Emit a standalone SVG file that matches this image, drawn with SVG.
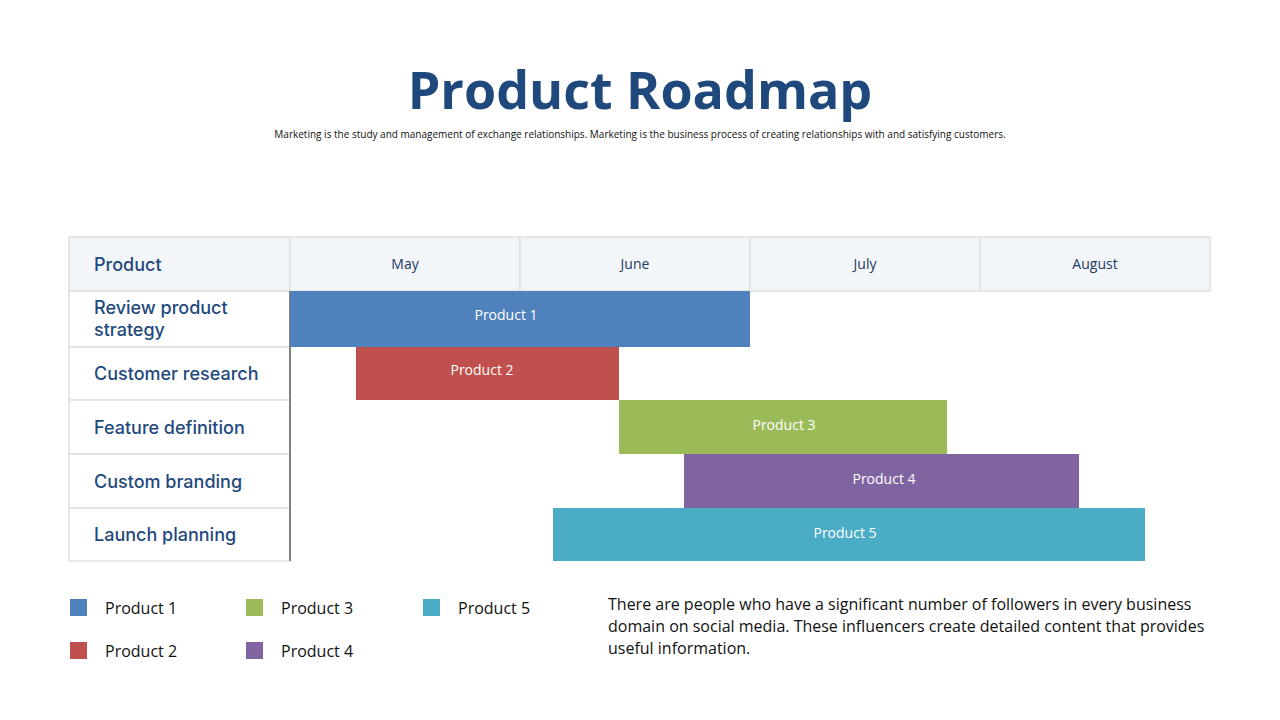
<svg xmlns="http://www.w3.org/2000/svg" width="1280" height="720" viewBox="0 0 1280 720">
<style>
.lbl{font-family:Inter,"Noto Sans",sans-serif;font-size:18px;fill:#1f497d;font-weight:500}
.mon{font-family:"Open Sans","Noto Sans",sans-serif;font-size:14px;fill:#1f3864;text-anchor:middle}
.bar{font-family:"Open Sans","Noto Sans",sans-serif;font-size:14px;fill:#fff;text-anchor:middle}
.leg{font-family:"Open Sans","Noto Sans",sans-serif;font-size:16px;fill:#111}
.cell{fill:#fff;stroke:#e0e0e0;stroke-width:1.5}
.hd{fill:#f3f6f8;stroke:#e0e0e0;stroke-width:1.5}
</style>
<rect width="1280" height="720" fill="#fff"/>
<text x="640" y="109" text-anchor="middle" font-family="'Open Sans','Noto Sans',sans-serif" font-weight="bold" font-size="52" fill="#1f497d">Product Roadmap</text>
<text x="640" y="138" text-anchor="middle" font-family="'Open Sans','Noto Sans',sans-serif" font-size="10" fill="#111">Marketing is the study and management of exchange relationships. Marketing is the business process of creating relationships with and satisfying customers.</text>
<g id="header">
<rect class="hd" x="69" y="237" width="221" height="54"/>
<rect class="hd" x="290" y="237" width="230" height="54"/>
<rect class="hd" x="520" y="237" width="230" height="54"/>
<rect class="hd" x="750" y="237" width="230" height="54"/>
<rect class="hd" x="980" y="237" width="230" height="54"/>
<text class="lbl" x="94" y="271">Product</text>
<text class="mon" x="405" y="269">May</text>
<text class="mon" x="635" y="269">June</text>
<text class="mon" x="865" y="269">July</text>
<text class="mon" x="1095" y="269">August</text>
</g>
<g id="rows">
<rect class="cell" x="69" y="291" width="221" height="56"/>
<rect class="cell" x="69" y="347" width="221" height="53"/>
<rect class="cell" x="69" y="400" width="221" height="54"/>
<rect class="cell" x="69" y="454" width="221" height="54"/>
<rect class="cell" x="69" y="508" width="221" height="53"/>
<line x1="290" y1="291" x2="290" y2="561" stroke="#7f7f7f" stroke-width="2"/>
<text class="lbl" x="94" y="314">Review product</text>
<text class="lbl" x="94" y="336">strategy</text>
<text class="lbl" x="94" y="380">Customer research</text>
<text class="lbl" x="94" y="434">Feature definition</text>
<text class="lbl" x="94" y="488">Custom branding</text>
<text class="lbl" x="94" y="541">Launch planning</text>
</g>
<g id="bars">
<rect x="290" y="291" width="460" height="56" fill="#4f81bd"/><text class="bar" x="506" y="320">Product 1</text>
<rect x="356" y="347" width="263" height="53" fill="#c0504d"/><text class="bar" x="482" y="375">Product 2</text>
<rect x="619" y="400" width="328" height="54" fill="#9bbb59"/><text class="bar" x="784" y="430">Product 3</text>
<rect x="684" y="454" width="395" height="54" fill="#8064a2"/><text class="bar" x="884" y="484">Product 4</text>
<rect x="553" y="508" width="592" height="53" fill="#4bacc6"/><text class="bar" x="845" y="538">Product 5</text>
</g>
<g id="legend">
<rect x="70" y="599" width="17" height="17" fill="#4f81bd"/><text class="leg" x="105" y="614">Product 1</text>
<rect x="70" y="642" width="17" height="17" fill="#c0504d"/><text class="leg" x="105" y="657">Product 2</text>
<rect x="246" y="599" width="17" height="17" fill="#9bbb59"/><text class="leg" x="281" y="614">Product 3</text>
<rect x="246" y="642" width="17" height="17" fill="#8064a2"/><text class="leg" x="281" y="657">Product 4</text>
<rect x="423" y="599" width="17" height="17" fill="#4bacc6"/><text class="leg" x="458" y="614">Product 5</text>
</g>
<g font-family="'Open Sans','Noto Sans',sans-serif" font-size="16" fill="#111">
<text x="608" y="610">There are people who have a significant number of followers in every business</text>
<text x="608" y="632">domain on social media. These influencers create detailed content that provides</text>
<text x="608" y="654">useful information.</text>
</g>
</svg>
